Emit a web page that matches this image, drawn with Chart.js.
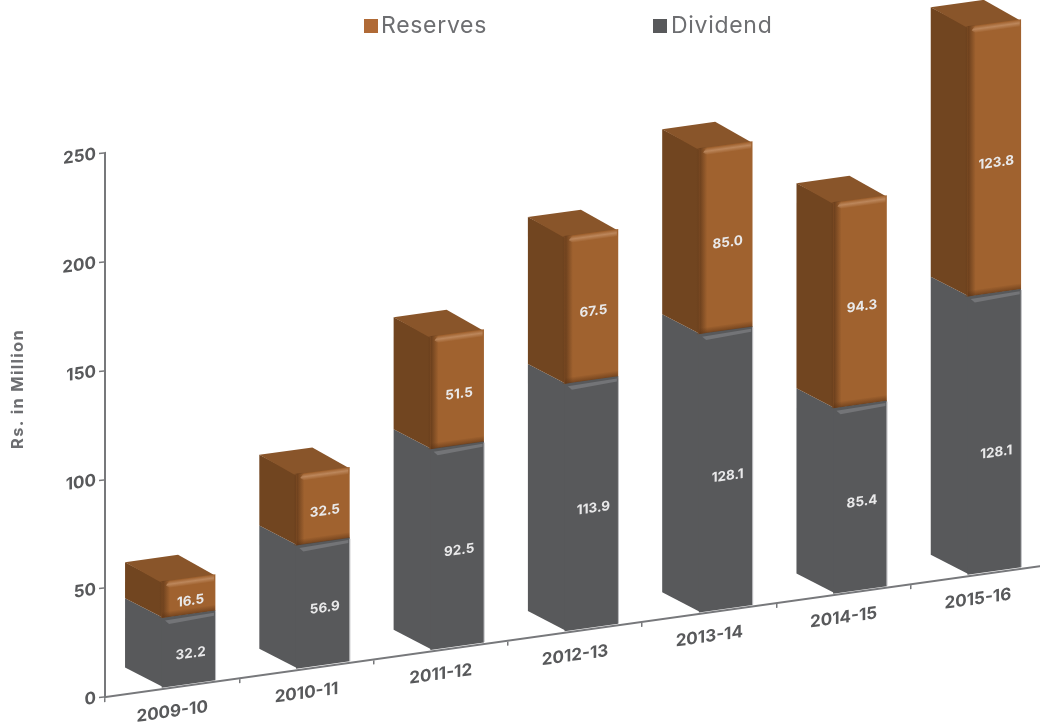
<!DOCTYPE html>
<html>
<head>
<meta charset="utf-8">
<style>
  html, body { margin: 0; padding: 0; background: #fff; overflow: hidden; width: 1040px; height: 723px; }
  canvas { display: block; }
</style>
<script src="https://cdn.jsdelivr.net/npm/chart.js@4"></script>
</head>
<body>
<canvas id="chart" width="1045" height="740"></canvas>
<script>
// Appropriation of profit, Rs. in Million
const years = ['2009-10', '2010-11', '2011-12', '2012-13', '2013-14', '2014-15', '2015-16'];
const dividend = [32.2, 56.9, 92.5, 113.9, 128.1, 85.4, 128.1];
const reserves = [16.5, 32.5, 51.5, 67.5, 85.0, 94.3, 123.8];
const yTicksMax = 250;
const yTicksStep = 50;
const yCaption = 'Rs. in Million';

// Palette
const BROWN_FRONT = '#a0622f';
const BROWN_SIDE = '#714520';
const BROWN_TOP = '#89552a';
const GREY_FACE = '#58595b';
const AXIS_GREY = '#77787b';
const TEXT_GREY = '#58595b';
const LABEL_WHITE = '#e9e9ea';

// Projection: the floor rises to the right, the boxes recede up and to the left
const SLOPE = 0.14;
const ORIGIN_X = 105;
const DEPTH_X = -37;
const DEPTH_Y = -25;
const FRONT_SHIFT = 16.4;
const FRONT_LIFT = -1;

// Value labels sit a little below centre; the last dividend label sits lower still
const LABEL_OFFSET_X = 2;
const LABEL_OFFSET_Y = 5;
const LABEL_EXTRA_DROP = { '0,4': 2, '0,6': 16 };

function face(ctx, pts, fill) {
  ctx.beginPath();
  pts.forEach((p, i) => (i ? ctx.lineTo(p[0], p[1]) : ctx.moveTo(p[0], p[1])));
  ctx.closePath();
  ctx.fillStyle = fill;
  ctx.fill();
}

const projection = {
  id: 'projection',
  beforeDraw(chart) {
    const ctx = chart.ctx;
    ctx.save();
    ctx.transform(1, -SLOPE, 0, 1, 0, SLOPE * ORIGIN_X);
  },
  beforeDatasetsDraw(chart) {
    const ctx = chart.ctx;
    ctx.save();
    ctx.translate(FRONT_SHIFT, FRONT_LIFT);
    // Side and top faces go down first; each runs a pixel under the front face to hide the seam
    chart.data.datasets.forEach((ds, di) => {
      const isTop = di === chart.data.datasets.length - 1;
      chart.getDatasetMeta(di).data.forEach((bar) => {
        const l = bar.x - bar.width / 2, r = bar.x + bar.width / 2;
        face(ctx, [[l + 1, bar.base], [l + 1, bar.y], [l + DEPTH_X, bar.y + DEPTH_Y], [l + DEPTH_X, bar.base + DEPTH_Y]],
          isTop ? BROWN_SIDE : GREY_FACE);
        if (isTop) {
          face(ctx, [[l, bar.y + 1], [r, bar.y + 1], [r + DEPTH_X, bar.y + DEPTH_Y], [l + DEPTH_X, bar.y + DEPTH_Y]], BROWN_TOP);
        }
      });
    });
  },
  afterDatasetsDraw(chart) {
    const ctx = chart.ctx;
    const [lower, upper] = chart.data.datasets.map((_, i) => chart.getDatasetMeta(i).data);

    upper.forEach((bar, i) => {
      const l = bar.x - bar.width / 2, r = bar.x + bar.width / 2;
      // Soft shading down the left edge of the brown front
      const shade = ctx.createLinearGradient(l - 3, 0, l + 8, 0);
      shade.addColorStop(0, 'rgba(105,62,28,0)');
      shade.addColorStop(0.35, 'rgba(105,62,28,0.9)');
      shade.addColorStop(1, 'rgba(105,62,28,0)');
      ctx.fillStyle = shade;
      ctx.fillRect(l - 3, bar.y - 1, 11, bar.base - bar.y + 1);
      // Rounded top bevel with its highlight
      const bevel = ctx.createLinearGradient(0, bar.y, 0, bar.y + 7);
      bevel.addColorStop(0, 'rgba(200,150,110,0)');
      bevel.addColorStop(0.45, 'rgba(200,150,110,0.7)');
      bevel.addColorStop(1, 'rgba(200,150,110,0)');
      ctx.fillStyle = bevel;
      ctx.beginPath();
      ctx.moveTo(l + 4, bar.y + 4);
      ctx.lineTo(l + 7, bar.y);
      ctx.lineTo(r - 1, bar.y);
      ctx.lineTo(r - 1, bar.y + 7);
      ctx.lineTo(l + 8, bar.y + 7);
      ctx.closePath();
      ctx.fill();
      // Darker lip along the bottom
      const lip = ctx.createLinearGradient(0, bar.base - 6, 0, bar.base);
      lip.addColorStop(0, 'rgba(90,50,20,0)');
      lip.addColorStop(1, 'rgba(90,50,20,0.6)');
      ctx.fillStyle = lip;
      ctx.fillRect(l, bar.base - 6, bar.width, 6);
      // Lighter ledge on the grey box just under the brown one
      ctx.fillStyle = '#737477';
      ctx.beginPath();
      ctx.moveTo(l + 3, bar.base + 3);
      ctx.lineTo(r - 1, bar.base + 2);
      ctx.lineTo(r - 1, bar.base + 5);
      ctx.lineTo(l + 7, bar.base + 7);
      ctx.closePath();
      ctx.fill();
      // Pale right edge of the grey box
      const under = lower[i];
      ctx.fillStyle = '#b9babd';
      ctx.fillRect(r, under.y + 1, 1, under.base - under.y - 1);
    });

    // Value labels on the front faces
    ctx.font = '700 13.5px Inter';
    ctx.fillStyle = LABEL_WHITE;
    ctx.textAlign = 'center';
    ctx.textBaseline = 'middle';
    chart.data.datasets.forEach((ds, di) => {
      chart.getDatasetMeta(di).data.forEach((bar, i) => {
        const drop = LABEL_OFFSET_Y + (LABEL_EXTRA_DROP[di + ',' + i] || 0);
        ctx.fillText(ds.data[i].toFixed(1), bar.x + LABEL_OFFSET_X, (bar.y + bar.base) / 2 + drop);
      });
    });
    ctx.restore();
  },
  afterDraw(chart) {
    const ctx = chart.ctx;
    ctx.restore();

    // Legend along the top, reserves first
    const entries = [
      { ds: chart.data.datasets[1], box: 364, text: 381 },
      { ds: chart.data.datasets[0], box: 653, text: 671 }
    ];
    ctx.save();
    ctx.font = '400 23px Inter';
    ctx.letterSpacing = '0.7px';
    ctx.textAlign = 'left';
    ctx.textBaseline = 'middle';
    entries.forEach((e) => {
      ctx.fillStyle = e.ds.legendColor;
      ctx.fillRect(e.box, 19, 14, 14);
      ctx.fillStyle = '#6d6e71';
      ctx.fillText(e.ds.label, e.text, 26);
    });
    ctx.restore();

    // Vertical axis caption
    ctx.save();
    ctx.translate(18, 389);
    ctx.rotate(-Math.PI / 2);
    ctx.font = '700 16.5px Inter';
    ctx.letterSpacing = '1.3px';
    ctx.fillStyle = '#6d6e71';
    ctx.textAlign = 'center';
    ctx.textBaseline = 'middle';
    ctx.fillText(yCaption, 0, 0);
    ctx.restore();
  }
};

new Chart(document.getElementById('chart'), {
  type: 'bar',
  data: {
    labels: years,
    datasets: [
      { label: 'Dividend', data: dividend, backgroundColor: GREY_FACE, legendColor: '#58595b', clip: false },
      { label: 'Reserves', data: reserves, backgroundColor: BROWN_FRONT, legendColor: '#b06a36', clip: false }
    ]
  },
  options: {
    responsive: false,
    animation: false,
    events: [],
    barThickness: 53,
    layout: { padding: { top: 153, right: 0, bottom: 0, left: 0 } },
    plugins: { legend: { display: false }, tooltip: { enabled: false } },
    scales: {
      x: {
        stacked: true,
        afterFit: (s) => { s.height = 43; },
        border: { color: AXIS_GREY, width: 2 },
        grid: { drawOnChartArea: false, offset: true, tickLength: 5, color: AXIS_GREY, lineWidth: 1.5 },
        ticks: {
          autoSkip: false, maxRotation: 0, minRotation: 0, padding: 9,
          color: TEXT_GREY, font: { family: 'Inter', weight: '700', size: 17 }
        }
      },
      y: {
        stacked: true,
        min: 0,
        max: yTicksMax,
        afterFit: (s) => { s.width = ORIGIN_X; },
        border: { color: AXIS_GREY, width: 2 },
        grid: { drawOnChartArea: false, tickLength: 6, color: AXIS_GREY, lineWidth: 1.5 },
        ticks: {
          stepSize: yTicksStep, padding: 3,
          color: TEXT_GREY, font: { family: 'Inter', weight: '700', size: 17 }
        }
      }
    }
  },
  plugins: [projection]
});
</script>
</body>
</html>
